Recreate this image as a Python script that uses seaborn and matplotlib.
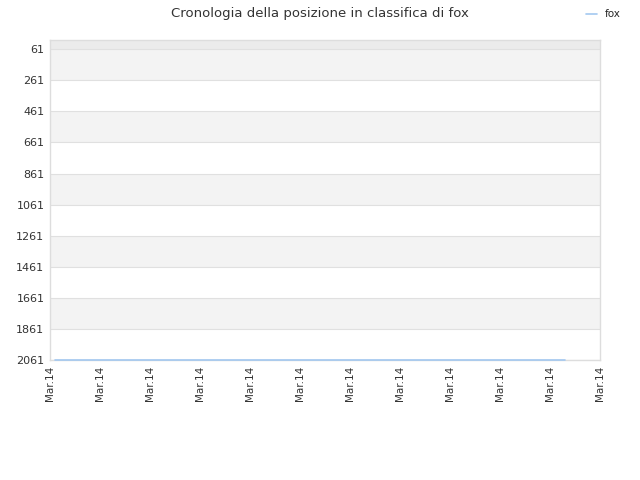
import matplotlib
matplotlib.use("Agg")
import matplotlib.pyplot as plt
import seaborn as sns
import pandas as pd

title = "Cronologia della posizione in classifica di fox"
series_name = "fox"
tick_labels = ["Mar.14"] * 12
tick_positions = list(range(12))
x_vals = [0.1, 10.3]
rank_vals = [2061, 2061]
y_ticks = [61, 261, 461, 661, 861, 1061, 1261, 1461, 1661, 1861, 2061]

sns.set_theme(style="white")
plt.rcParams['font.family'] = ['DejaVu Sans']

fig = plt.figure(figsize=(6.4, 4.8), dpi=100)
ax = fig.add_axes([50/640, 1-360/480, 550/640, 320/480])

df = pd.DataFrame({"x": x_vals, "rank": rank_vals, "name": series_name})
sns.lineplot(data=df, x="x", y="rank", ax=ax, color="#a3c8f0", linewidth=1.2, label=series_name,
             legend=False, zorder=3, clip_on=False)

ax.set_xlim(0, 11)
ax.set_ylim(2061, 2)
# bands
ax.axhspan(2, 61, color="#ebebeb", zorder=0, lw=0)
for i in range(len(y_ticks) - 1):
    if i % 2 == 0:
        ax.axhspan(y_ticks[i], y_ticks[i+1], color="#f3f3f3", zorder=0, lw=0)
for yt in y_ticks:
    ax.axhline(yt, color="#e0e0e0", lw=0.8, zorder=0.5)

ax.set_yticks(y_ticks)
ax.set_yticklabels([str(v) for v in y_ticks], fontsize=8, color="#333333")
ax.set_xticks(tick_positions)
ax.set_xticklabels(tick_labels, rotation=90, fontsize=7.5, color="#333333")
ax.tick_params(axis="both", length=0, pad=4)
ax.set_xlabel("")
ax.set_ylabel("")
for s in ax.spines.values():
    s.set_color("#dddddd")
    s.set_linewidth(1)
    s.set_zorder(2)

fig.suptitle(title, fontsize=9.5, color="#333333", y=0.985)
h, l = ax.get_legend_handles_labels()
fig.legend(h, l, loc="upper right", bbox_to_anchor=(0.985, 1.0), frameon=False, fontsize=7.5,
           handlelength=1.0, handletextpad=0.8)

fig.savefig("out.png", dpi=100)
